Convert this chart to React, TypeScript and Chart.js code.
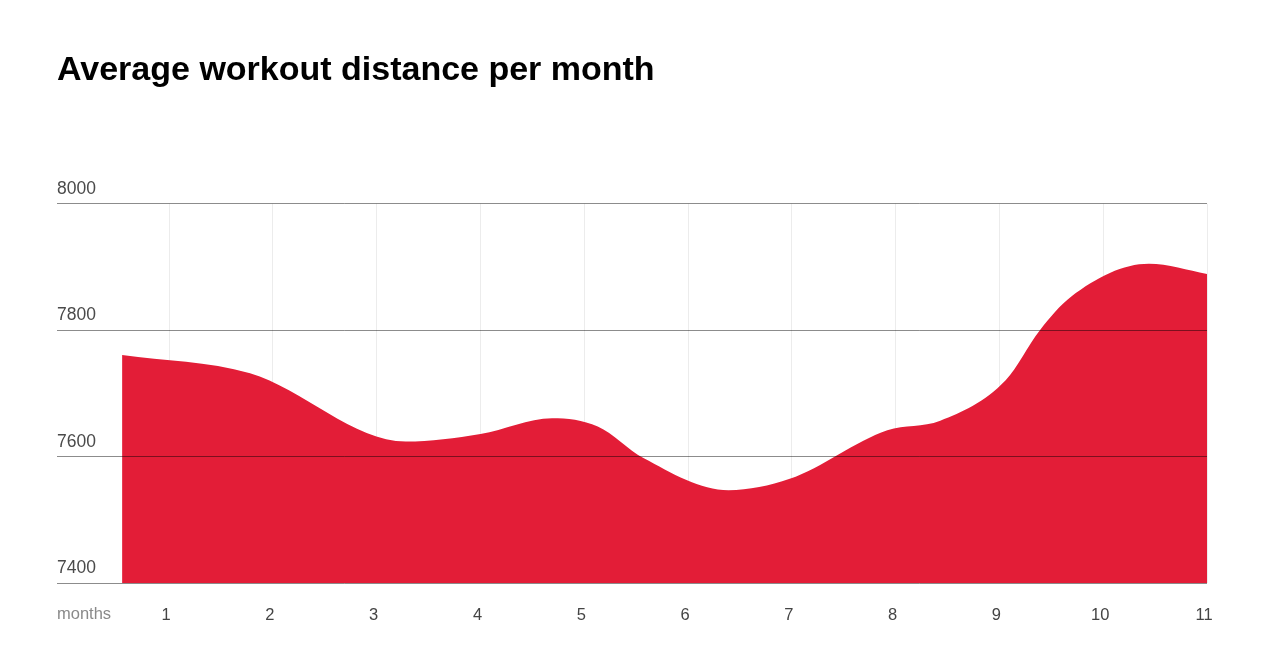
import React, { useEffect, useRef } from "react";
import { Chart, registerables } from "chart.js";

Chart.register(...registerables);

const TITLE = "Average workout distance per month";
const X_AXIS_NAME = "months";
const MONTH_TICKS = [1, 2, 3, 4, 5, 6, 7, 8, 9, 10, 11];
const Y_TICKS = [7400, 7600, 7800, 8000];
// sampled positions along the month axis and the distance there
const MONTH_POS = [0.547, 1.78, 3.28, 4.0, 4.69, 5.13, 5.57, 6.39, 6.98, 7.92, 8.43, 9.06, 9.39, 9.69, 10.44, 11.0];
const DISTANCE = [7761, 7732, 7624, 7636, 7661, 7648, 7598, 7547, 7565, 7642, 7657, 7721, 7800, 7853, 7905, 7889];

const FONT = "'Liberation Sans', Arial, Helvetica, sans-serif";

export default function App() {
  const ref = useRef<HTMLCanvasElement | null>(null);

  useEffect(() => {
    const canvas = ref.current;
    if (!canvas) return;
    const monthsLabel = {
      id: "monthsLabel",
      afterDraw(chart: any) {
        const { ctx, chartArea } = chart;
        ctx.save();
        ctx.font = `16.5px ${FONT}`;
        ctx.fillStyle = "#8a8a8a";
        ctx.textAlign = "left";
        ctx.textBaseline = "middle";
        ctx.fillText(X_AXIS_NAME, chartArea.left, chartArea.bottom + 31);
        ctx.restore();
      },
    };
    const chart = new Chart(canvas, {
      type: "line",
      data: {
        datasets: [
          {
            data: MONTH_POS.map((m, i) => ({ x: m, y: DISTANCE[i] })),
            fill: "start",
            backgroundColor: "#e31d37",
            borderWidth: 0,
            borderColor: "rgba(0,0,0,0)",
            pointRadius: 0,
            cubicInterpolationMode: "monotone",
          },
        ],
      },
      options: {
        responsive: false,
        animation: false,
        devicePixelRatio: 1,
        layout: { padding: { left: 57, right: 73, top: 0, bottom: 6 } },
        plugins: {
          legend: { display: false },
          tooltip: { enabled: false },
          title: {
            display: true,
            text: TITLE,
            align: "start",
            color: "#000",
            font: { family: FONT, size: 34, weight: "bold" },
            padding: { top: 50, bottom: 113 },
          },
        },
        scales: {
          x: {
            type: "linear",
            min: -0.08,
            max: 11,
            afterBuildTicks: (scale: any) => {
              scale.ticks = MONTH_TICKS.map((v) => ({ value: v }));
            },
            grid: { color: "#ececec", drawTicks: false, lineWidth: 1 },
            border: { display: false },
            ticks: {
              color: "#444",
              font: { family: FONT, size: 16.5 },
              padding: 22,
              labelOffset: -3,
              maxRotation: 0,
              autoSkip: false,
              callback: (v: any) => String(v),
            },
          },
          y: {
            min: 7400,
            max: 8000,
            afterBuildTicks: (scale: any) => {
              scale.ticks = Y_TICKS.map((v) => ({ value: v }));
            },
            grid: { color: "rgba(0,0,0,0.45)", drawTicks: false, lineWidth: 1, z: 1 },
            border: { display: false },
            ticks: {
              mirror: true,
              padding: 0,
              labelOffset: -15,
              color: "#4a4a4a",
              font: { family: FONT, size: 17.5 },
              callback: (v: any) => String(v),
            },
          },
        },
      },
      plugins: [monthsLabel],
    } as any);
    return () => chart.destroy();
  }, []);

  return (
    <div style={{ position: "fixed", left: 0, top: 0, width: 1280, height: 653, background: "#fff" }}>
      <canvas ref={ref} width={1280} height={653} style={{ display: "block", width: 1280, height: 653 }} />
    </div>
  );
}
